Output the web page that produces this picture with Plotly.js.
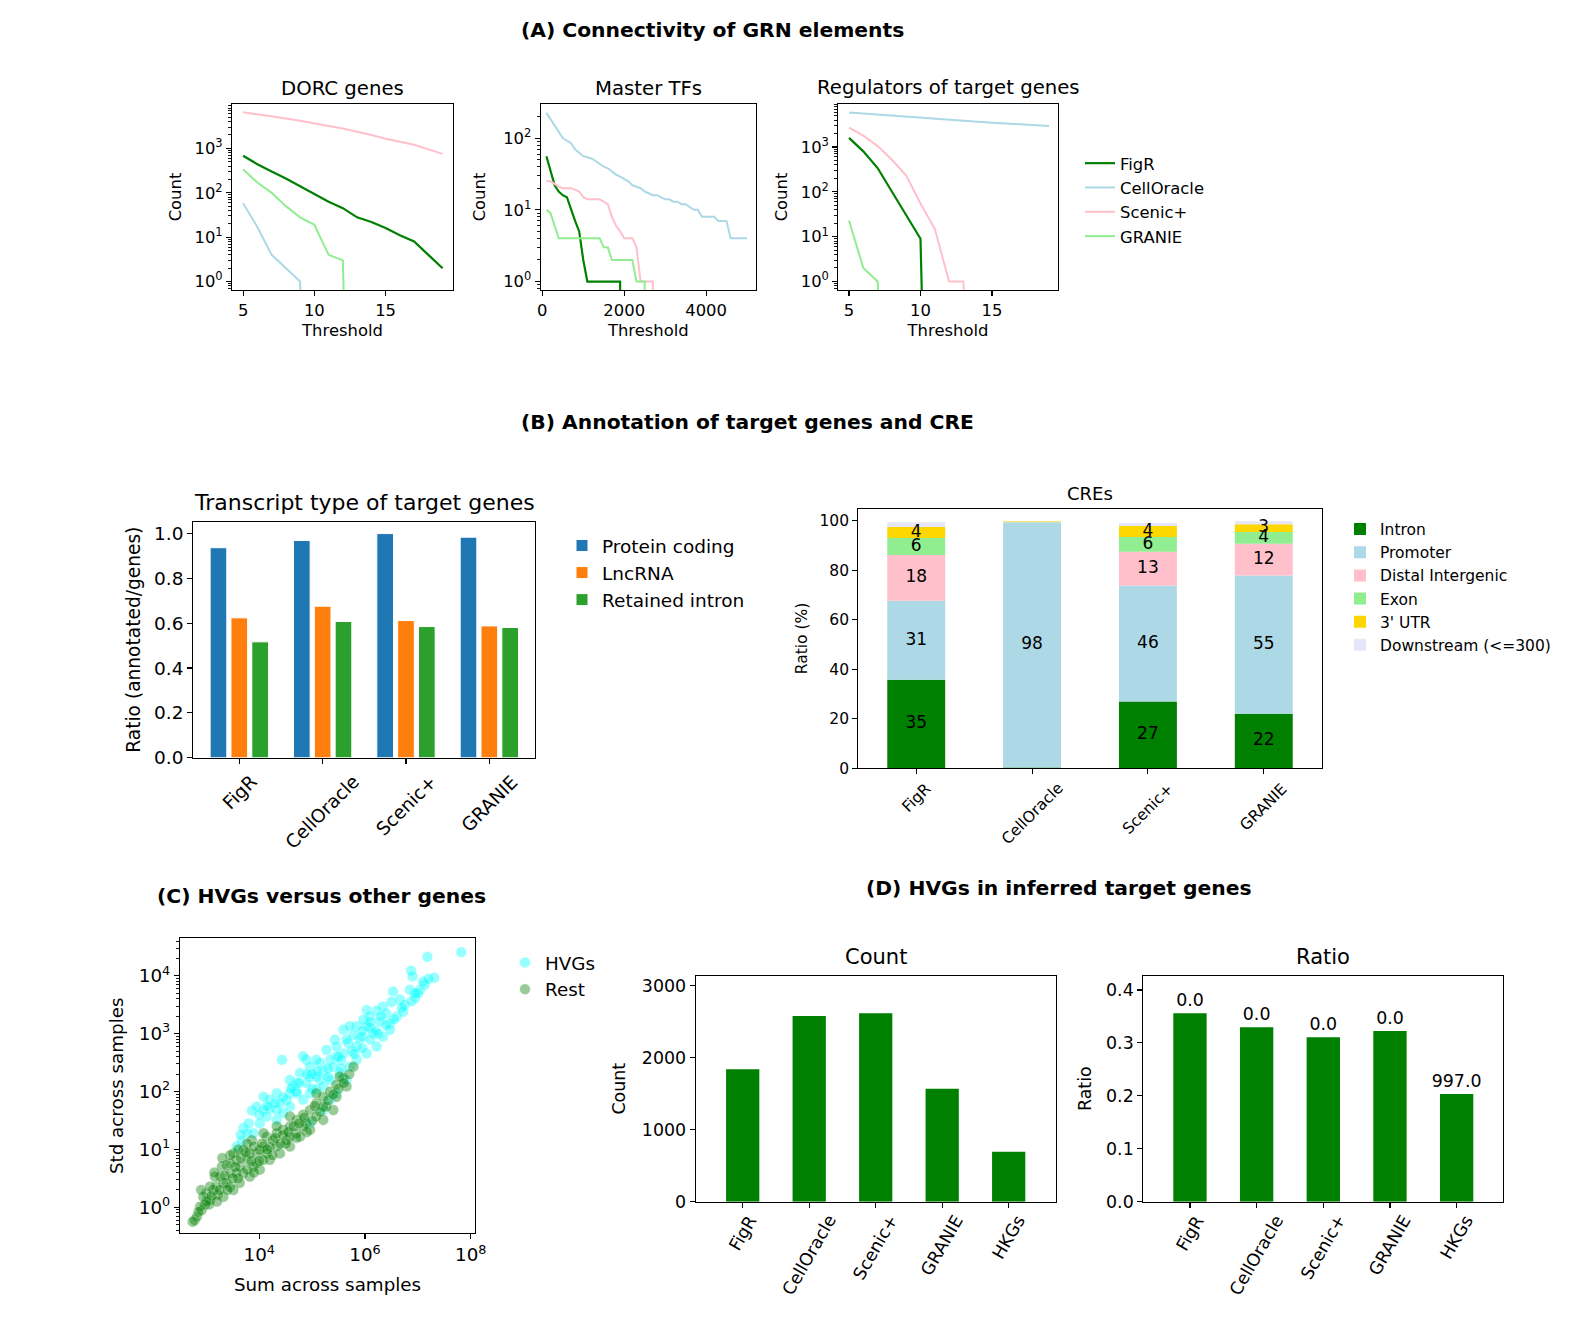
<!DOCTYPE html>
<html>
<head>
<meta charset="utf-8">
<script src="https://cdn.plot.ly/plotly-3.0.1.min.js"></script>
<style>html,body{margin:0;padding:0;background:#fff;}</style>
</head>
<body>
<div id="chart" style="width:1580px;height:1328px;"></div>
<script>
// ================= DATA =================
const methods = ['FigR', 'CellOracle', 'Scenic+', 'GRANIE'];
const methodColors = ['#008000', '#add8e6', '#ffc0cb', '#90ee90'];

// (A) DORC genes
const dorcThreshold = [5, 6, 7, 8, 9, 10, 11, 12, 13, 14, 15, 16, 17, 18, 19];
const dorcFigR       = [680, 440, 300, 210, 140, 92, 63, 45, 28, 22, 16, 11, 8, 4, 2];
const dorcCellOracle = [58, 17, 4, 2, 1, 0, 0, 0, 0, 0, 0, 0, 0, 0, 0];
const dorcScenic     = [6500, 5900, 5300, 4700, 4200, 3600, 3200, 2800, 2400, 2000, 1650, 1400, 1200, 950, 750];
const dorcGRANIE     = [340, 170, 100, 50, 28, 19, 4, 3, 0, 0, 0, 0, 0, 0, 0];

// (A) Master TFs
const tfThreshold = [100, 200, 300, 400, 500, 600, 700, 800, 900, 1000,
  1100, 1200, 1300, 1400, 1500, 1600, 1700, 1800, 1900, 2000,
  2100, 2200, 2300, 2400, 2500, 2600, 2700, 2800, 2900, 3000,
  3100, 3200, 3300, 3400, 3500, 3600, 3700, 3800, 3900, 4000,
  4100, 4200, 4300, 4400, 4500, 4600, 4700, 4800, 4900, 5000];
const tfFigR = [56, 36, 22, 18, 16, 15, 10, 7, 5, 2,
  1, 1, 1, 1, 1, 1, 1, 1, 1, 0,
  0, 0, 0, 0, 0, 0, 0, 0, 0, 0,
  0, 0, 0, 0, 0, 0, 0, 0, 0, 0,
  0, 0, 0, 0, 0, 0, 0, 0, 0, 0];
const tfCellOracle = [225, 185, 150, 125, 100, 92, 85, 70, 62, 56,
  54, 52, 48, 44, 40, 38, 34, 31, 29, 27,
  25, 22, 21, 20, 18, 17, 16, 16, 15, 14,
  14, 13, 13, 12, 12, 11, 10, 10, 8, 8,
  8, 8, 7, 7, 7, 4, 4, 4, 4, 4];
const tfScenic = [25, 25, 23, 21, 20, 20, 20, 19, 18, 15,
  14, 14, 14, 14, 13, 12, 8, 6, 5, 4,
  4, 4, 3, 1, 1, 1, 1, 0, 0, 0,
  0, 0, 0, 0, 0, 0, 0, 0, 0, 0,
  0, 0, 0, 0, 0, 0, 0, 0, 0, 0];
const tfGRANIE = [10, 9, 6, 4, 4, 4, 4, 4, 4, 4,
  4, 4, 4, 4, 3, 3, 2, 2, 2, 2,
  2, 2, 1, 1, 1, 0, 0, 0, 0, 0,
  0, 0, 0, 0, 0, 0, 0, 0, 0, 0,
  0, 0, 0, 0, 0, 0, 0, 0, 0, 0];

// (A) Regulators of target genes
const regThreshold = [5, 6, 7, 8, 9, 10, 11, 12, 13, 14, 15, 16, 17, 18, 19];
const regFigR       = [1600, 800, 340, 100, 30, 9, 0, 0, 0, 0, 0, 0, 0, 0, 0];
const regCellOracle = [5900, 5600, 5300, 5000, 4700, 4400, 4200, 4000, 3800, 3650, 3500, 3350, 3200, 3100, 2950];
const regScenic     = [2700, 1800, 1050, 520, 230, 55, 15, 1, 1, 0, 0, 0, 0, 0, 0];
const regGRANIE     = [23, 2, 1, 0, 0, 0, 0, 0, 0, 0, 0, 0, 0, 0, 0];

// (B) Transcript type of target genes
const transcriptTypes = ['Protein coding', 'LncRNA', 'Retained intron'];
const transcriptColors = ['#1f77b4', '#ff7f0e', '#2ca02c'];
const proteinCoding  = [0.937, 0.969, 1.000, 0.984];
const lncRNA         = [0.624, 0.676, 0.612, 0.588];
const retainedIntron = [0.517, 0.608, 0.585, 0.581];

// (B) CREs (%)
const creTypes = ['Intron', 'Promoter', 'Distal Intergenic', 'Exon', "3' UTR", 'Downstream (&lt;=300)'];
const creColors = ['#008000', '#add8e6', '#ffc0cb', '#90ee90', '#ffd700', '#e6e6fa'];
const creIntron     = [35.7, 0.3, 27.0, 22.0];
const crePromoter   = [31.9, 98.9, 46.8, 55.8];
const creDistal     = [18.5, 0.1, 13.6, 12.9];
const creExon       = [6.9, 0.1, 6.0, 4.7];
const creUTR        = [4.4, 0.3, 4.4, 3.1];
const creDownstream = [1.9, 0.1, 1.3, 1.2];

// (C) HVGs versus other genes (values given as log10)
const hvgLogSum = [7.82,7.18,7.31,6.87,6.90,7.13,7.04,6.85,6.53,6.66,6.75,6.88,6.60,6.47,6.34,6.22,6.03,6.28,6.15,6.03,
  5.84,5.90,5.78,5.68,5.43,5.59,5.46,5.34,5.40,5.15,5.21,5.08,4.89,4.83,4.43,4.96,4.89,5.15,4.77,4.71,
  4.64,4.58,4.71,4.52,4.39,4.33,4.20,4.14,4.08,3.86,4.01,3.70,3.77,3.89,3.57,3.67,4.33,4.45,4.58,4.83,
  4.96,5.08,5.21,5.34,5.52,5.71,5.84,6.03,6.22,6.34,6.47,5.27,5.46,5.65,5.84,5.97,6.09,5.08,4.58,4.33,
  4.20,4.08,3.95,4.96,5.59,5.71,4.96,5.21,5.46,5.65,5.34,6.72,6.95,7.00,6.40,6.10,5.95,6.20,5.50,5.00,4.70,
  6.50,6.30,6.10,5.95,5.75,5.55,5.30,5.10,4.90,4.75,4.60,4.45,4.30,4.15,4.00,3.80,3.65,5.95,6.10,6.25,
  6.40,6.55,6.70,6.95,7.10,7.20,5.00,5.30,5.55,5.80];
const hvgLogStd = [4.41,4.33,3.97,4.09,3.99,3.85,3.76,3.76,3.73,3.59,3.50,3.56,3.30,3.18,3.47,3.40,3.41,3.21,3.01,3.13,
  3.13,2.92,2.98,2.84,2.90,2.66,2.61,2.55,2.43,2.49,2.35,2.55,2.55,2.61,2.55,2.26,2.15,2.20,2.32,2.15,
  2.09,1.97,1.97,1.86,1.80,1.68,1.71,1.57,1.68,1.67,1.45,1.37,1.28,1.28,1.05,1.14,1.51,1.63,1.74,1.86,
  1.97,2.03,2.09,2.20,2.32,2.43,2.55,2.66,2.78,2.95,3.07,2.72,2.78,2.90,2.78,3.24,3.30,2.26,2.20,1.97,
  1.86,1.91,1.74,2.43,3.07,3.13,1.45,1.68,1.97,2.20,1.86,3.38,3.62,3.70,3.35,3.10,2.95,3.05,2.60,2.30,2.00,
  3.55,3.30,3.20,3.05,2.70,2.55,2.40,2.35,2.30,2.15,2.05,1.90,1.80,1.75,1.60,1.45,1.25,2.75,2.90,3.00,
  3.15,3.25,3.45,3.70,3.90,3.95,2.05,2.25,2.40,2.65];
const restLogSum = [2.78,2.82,2.91,2.97,3.00,3.07,3.19,3.16,3.32,3.29,3.38,3.45,3.57,3.51,3.70,3.70,3.86,3.77,3.95,4.08,
  4.14,4.26,4.33,4.45,4.58,4.71,4.83,4.96,5.08,5.21,5.34,5.46,5.59,5.78,3.32,3.51,3.63,3.82,4.01,4.20,
  4.39,4.58,4.77,4.96,5.21,5.40,3.95,4.14,4.33,4.52,4.71,4.89,5.08,5.27,5.46,5.65,3.13,3.26,3.45,3.63,
  3.82,4.01,4.20,3.77,3.57,3.38,3.07,2.88,2.94,4.58,4.83,4.33,4.08,4.58,5.08,5.21,5.52,3.89,4.08,3.77,
  2.74,2.85,3.05,3.22,3.45,3.60,3.90,4.25,4.50,4.70,
  3.00,3.10,3.20,3.25,3.35,3.40,3.50,3.55,3.65,3.75,3.85,3.90,4.00,4.05,4.15,4.30,4.40,4.45,4.55,4.65,
  4.75,4.85,4.90,5.00,5.05,5.15,5.30,5.40,5.50,5.60,5.70,3.60,3.45,3.30,3.15,2.90];
const restLogStd = [-0.22,-0.16,-0.05,0.04,0.24,0.13,0.36,0.53,0.42,0.70,0.73,0.59,0.82,0.93,0.59,0.99,1.16,0.82,0.93,1.05,
  1.22,1.16,1.28,1.34,1.40,1.51,1.60,1.68,1.80,1.91,2.00,2.12,2.23,2.43,0.18,0.30,0.42,0.53,0.65,0.82,
  0.93,1.05,1.22,1.34,1.51,1.68,0.76,0.93,1.05,1.16,1.28,1.45,1.57,1.74,1.91,2.09,0.30,0.53,0.76,0.70,
  0.93,0.99,1.05,1.10,0.59,0.42,0.36,0.01,0.18,1.22,1.40,1.40,1.28,1.57,1.97,1.74,2.26,0.70,0.82,0.65,
  -0.25,-0.08,0.05,0.22,0.35,0.50,0.60,0.90,1.10,1.20,
  0.10,0.20,0.10,0.30,0.55,0.30,0.50,0.70,0.85,0.95,0.80,1.05,0.80,1.10,1.00,1.20,1.10,1.25,1.30,1.40,
  1.45,1.55,1.30,1.50,1.75,1.65,1.85,1.95,2.05,2.15,2.30,1.00,0.90,0.85,0.60,0.30];

// (D) HVGs in inferred target genes
const hvgCategories = ['FigR', 'CellOracle', 'Scenic+', 'GRANIE', 'HKGs'];
const hvgCount = [1838, 2578, 2616, 1569, 694];
const hvgRatio = [0.356, 0.3295, 0.3106, 0.3225, 0.2035];
const hvgRatioLabels = ['0.0', '0.0', '0.0', '0.0', '997.0'];

// ================= HELPERS =================
const FONT = 'DejaVu Sans';
const W = 1580, H = 1328;
const xd = (l, r) => [l / W, r / W];
const yd = (t, b) => [1 - b / H, 1 - t / H];
const font = (size, extra) => Object.assign({family: FONT, size: size, color: '#000'}, extra || {});

function baseAxis(extra, fs) {
  return Object.assign({
    showline: true, mirror: true, linecolor: '#000', linewidth: 1.1,
    ticks: 'outside', ticklen: 5, tickwidth: 1.1, tickcolor: '#000',
    showgrid: false, zeroline: false, tickfont: font(fs)
  }, extra);
}
const axTitle = (text, fs, standoff) => ({text: text, font: font(fs), standoff: standoff});
const supText = vals => vals.map(v => '10<sup>' + Math.round(Math.log10(v)) + '</sup>');
function minorLog(p0, p1) {
  const out = [];
  for (let p = p0; p <= p1; p++) for (let k = 2; k <= 9; k++) out.push(k * Math.pow(10, p));
  return out;
}
const minorStyle = vals => ({ticks: 'outside', ticklen: 3, tickwidth: 0.9, tickcolor: '#000', tickmode: 'array', tickvals: vals, showgrid: false});
// zero counts are clipped far below the axis (as a log plot does), giving the vertical drop
const clipLog = arr => arr.map(v => (v > 0 ? v : 1e-12));

// ================= TRACES =================
const traces = [];
function addLines(xs, series, xa, ya, show) {
  series.forEach((ys, i) => {
    traces.push({
      type: 'scatter', mode: 'lines', x: xs, y: clipLog(ys), xaxis: xa, yaxis: ya,
      name: methods[i], legendgroup: methods[i], showlegend: show, legend: 'legend',
      line: {color: methodColors[i], width: i === 0 ? 2.2 : 2}, hoverinfo: 'skip'
    });
  });
}
addLines(dorcThreshold, [dorcFigR, dorcCellOracle, dorcScenic, dorcGRANIE], 'x', 'y', false);
addLines(tfThreshold, [tfFigR, tfCellOracle, tfScenic, tfGRANIE], 'x2', 'y2', false);
addLines(regThreshold, [regFigR, regCellOracle, regScenic, regGRANIE], 'x3', 'y3', true);

[proteinCoding, lncRNA, retainedIntron].forEach((vals, i) => {
  traces.push({
    type: 'bar', x: methods, y: vals, xaxis: 'x4', yaxis: 'y4', name: transcriptTypes[i],
    marker: {color: transcriptColors[i], line: {color: '#ffffff', width: 1}}, legend: 'legend2', hoverinfo: 'skip'
  });
});

const creSeries = [creIntron, crePromoter, creDistal, creExon, creUTR, creDownstream];
let cum = methods.map(() => 0);
const labX = [], labY = [], labT = [];
creSeries.forEach((vals, i) => {
  const base = cum.slice();
  traces.push({
    type: 'bar', x: methods, y: vals, base: base, width: 0.5, offsetgroup: 'cre',
    xaxis: 'x5', yaxis: 'y5', name: creTypes[i], marker: {color: creColors[i]},
    legend: 'legend3', hoverinfo: 'skip'
  });
  vals.forEach((v, j) => {
    if (v >= 3) { labX.push(methods[j]); labY.push(base[j] + v / 2); labT.push(String(Math.floor(v))); }
  });
  cum = cum.map((c, j) => c + vals[j]);
});
traces.push({
  type: 'scatter', mode: 'text', x: labX, y: labY, text: labT, xaxis: 'x5', yaxis: 'y5',
  textposition: 'middle center', textfont: font(17), showlegend: false, hoverinfo: 'skip', cliponaxis: false
});

traces.push({
  type: 'scatter', mode: 'markers', x: hvgLogSum.map(v => Math.pow(10, v)), y: hvgLogStd.map(v => Math.pow(10, v)),
  xaxis: 'x6', yaxis: 'y6', name: 'HVGs', legend: 'legend4', hoverinfo: 'skip',
  marker: {color: '#00ffff', opacity: 0.4, size: 11, line: {color: '#ffffff', width: 0.6}}
});
traces.push({
  type: 'scatter', mode: 'markers', x: restLogSum.map(v => Math.pow(10, v)), y: restLogStd.map(v => Math.pow(10, v)),
  xaxis: 'x6', yaxis: 'y6', name: 'Rest', legend: 'legend4', hoverinfo: 'skip',
  marker: {color: '#008000', opacity: 0.4, size: 11, line: {color: '#ffffff', width: 0.6}}
});

traces.push({
  type: 'bar', x: hvgCategories, y: hvgCount, width: 0.5, xaxis: 'x7', yaxis: 'y7',
  marker: {color: '#008000'}, showlegend: false, hoverinfo: 'skip'
});
traces.push({
  type: 'bar', x: hvgCategories, y: hvgRatio, width: 0.5, xaxis: 'x8', yaxis: 'y8',
  marker: {color: '#008000'}, showlegend: false, hoverinfo: 'skip',
  text: hvgRatioLabels, textposition: 'outside', textfont: font(17.4), constraintext: 'none', cliponaxis: false
});

// ================= ANNOTATIONS =================
const annotations = [];
function titleAnn(text, xPx, yPx, fs) {
  annotations.push({x: xPx / W, y: 1 - yPx / H, xref: 'paper', yref: 'paper', xanchor: 'center', yanchor: 'middle',
    showarrow: false, text: text, font: font(fs)});
}
titleAnn('<b>(A) Connectivity of GRN elements</b>', 712.4, 30.2, 20.3);
titleAnn('<b>(B) Annotation of target genes and CRE</b>', 747.7, 422, 20.3);
titleAnn('<b>(C) HVGs versus other genes</b>', 321.5, 895.6, 20.3);
titleAnn('<b>(D) HVGs in inferred target genes</b>', 1058.5, 887.7, 20.3);
titleAnn('DORC genes', 342.5, 88.3, 19.7);
titleAnn('Master TFs', 648.4, 88.3, 19.7);
titleAnn('Regulators of target genes', 948, 87, 19.7);
titleAnn('Transcript type of target genes', 364.2, 502.7, 22);
titleAnn('CREs', 1090, 493.3, 18);
titleAnn('Count', 875.7, 956.7, 21);
titleAnn('Ratio', 1323.3, 956.7, 21);

function rotLabels(cats, xref, yPx, angle, fs) {
  cats.forEach((c, i) => annotations.push({
    x: i, y: 1 - yPx / H, xref: xref, yref: 'paper', text: c, textangle: angle,
    xanchor: 'center', yanchor: 'top', showarrow: false, font: font(fs)
  }));
}
rotLabels(methods, 'x4', 768, -45, 18.5);
rotLabels(methods, 'x5', 777, -45, 15.5);
rotLabels(hvgCategories, 'x7', 1209, -60, 17.4);
rotLabels(hvgCategories, 'x8', 1209, -60, 17.4);

// ================= LAYOUT =================
function leg(xPx, yPx, fs) {
  return {x: xPx / W, y: 1 - yPx / H, xanchor: 'left', yanchor: 'top', bgcolor: 'rgba(0,0,0,0)',
    borderwidth: 0, font: font(fs), tracegroupgap: 0, traceorder: 'normal', itemclick: false, itemdoubleclick: false};
}

const layout = {
  width: W, height: H, margin: {l: 0, r: 0, t: 0, b: 0},
  paper_bgcolor: '#ffffff', plot_bgcolor: '#ffffff',
  font: font(16), showlegend: true, hovermode: false,
  barmode: 'group', bargap: 0.25, bargroupgap: 0.2,
  annotations: annotations,
  legend: leg(1080, 146, 16.4),
  legend2: leg(562, 527, 18.5),
  legend3: leg(1340, 512.5, 15.5),
  legend4: leg(505, 944, 18.3),

  xaxis: baseAxis({domain: xd(232, 453), anchor: 'y', range: [4.22, 19.73], tickmode: 'array', tickvals: [5, 10, 15],
    title: axTitle('Threshold', 16.4, 5)}, 16.4),
  yaxis: baseAxis({domain: yd(104, 290), anchor: 'x', type: 'log', range: [-0.19, 3.999], tickmode: 'array',
    tickvals: [1, 10, 100, 1000], ticktext: supText([1, 10, 100, 1000]), minor: minorStyle(minorLog(-1, 3)),
    title: axTitle('Count', 16.4, 8)}, 16.4),

  xaxis2: baseAxis({domain: xd(540.7, 756), anchor: 'y2', range: [-40, 5220], tickmode: 'array', tickvals: [0, 2000, 4000],
    title: axTitle('Threshold', 16.4, 5)}, 16.4),
  yaxis2: baseAxis({domain: yd(104, 290), anchor: 'x2', type: 'log', range: [-0.118, 2.476], tickmode: 'array',
    tickvals: [1, 10, 100], ticktext: supText([1, 10, 100]), minor: minorStyle(minorLog(-1, 2)),
    title: axTitle('Count', 16.4, 13)}, 16.4),

  xaxis3: baseAxis({domain: xd(838.3, 1057.7), anchor: 'y3', range: [4.25, 19.6], tickmode: 'array', tickvals: [5, 10, 15],
    title: axTitle('Threshold', 16.4, 5)}, 16.4),
  yaxis3: baseAxis({domain: yd(104, 290), anchor: 'x3', type: 'log', range: [-0.19, 3.96], tickmode: 'array',
    tickvals: [1, 10, 100, 1000], ticktext: supText([1, 10, 100, 1000]), minor: minorStyle(minorLog(-1, 3)),
    title: axTitle('Count', 16.4, 9)}, 16.4),

  xaxis4: baseAxis({domain: xd(193.3, 535), anchor: 'y4', type: 'category', categoryorder: 'array', categoryarray: methods,
    range: [-0.552, 3.548], showticklabels: false}, 18.5),
  yaxis4: baseAxis({domain: yd(521.7, 757.7), anchor: 'x4', range: [0, 1.053], tick0: 0, dtick: 0.2, tickformat: '.1f',
    title: axTitle('Ratio (annotated/genes)', 18.6, 8)}, 18.5),

  xaxis5: baseAxis({domain: xd(858.3, 1321.7), anchor: 'y5', type: 'category', categoryorder: 'array', categoryarray: methods,
    range: [-0.5, 3.5], showticklabels: false}, 15.5),
  yaxis5: baseAxis({domain: yd(508.7, 768.3), anchor: 'x5', range: [0, 104.8], tick0: 0, dtick: 20,
    title: axTitle('Ratio (%)', 15.5, 8)}, 15.5),

  xaxis6: baseAxis({domain: xd(180, 475), anchor: 'y6', type: 'log', range: [2.5, 8.08], tickmode: 'array',
    tickvals: [1e4, 1e6, 1e8], ticktext: supText([1e4, 1e6, 1e8]), title: axTitle('Sum across samples', 18.3, 13)}, 18.3),
  yaxis6: baseAxis({domain: yd(938.3, 1233.3), anchor: 'x6', type: 'log', range: [-0.45, 4.65], tickmode: 'array',
    tickvals: [1, 10, 100, 1000, 10000], ticktext: supText([1, 10, 100, 1000, 10000]), minor: minorStyle(minorLog(-1, 4)),
    title: axTitle('Std across samples', 18.3, 10)}, 18.3),

  xaxis7: baseAxis({domain: xd(695.7, 1055.7), anchor: 'y7', type: 'category', categoryorder: 'array', categoryarray: hvgCategories,
    range: [-0.707, 4.707], showticklabels: false}, 17.4),
  yaxis7: baseAxis({domain: yd(975.7, 1201.7), anchor: 'x7', range: [0, 3139], tick0: 0, dtick: 1000,
    title: axTitle('Count', 17.4, 11)}, 17.4),

  xaxis8: baseAxis({domain: xd(1143.3, 1503.3), anchor: 'y8', type: 'category', categoryorder: 'array', categoryarray: hvgCategories,
    range: [-0.7, 4.7], showticklabels: false}, 17.4),
  yaxis8: baseAxis({domain: yd(975.7, 1201.7), anchor: 'x8', range: [0, 0.427], tick0: 0, dtick: 0.1, tickformat: '.1f',
    title: axTitle('Ratio', 17.4, 9)}, 17.4)
};

Plotly.newPlot('chart', traces, layout, {staticPlot: true, displayModeBar: false, responsive: false});
</script>
</body>
</html>
